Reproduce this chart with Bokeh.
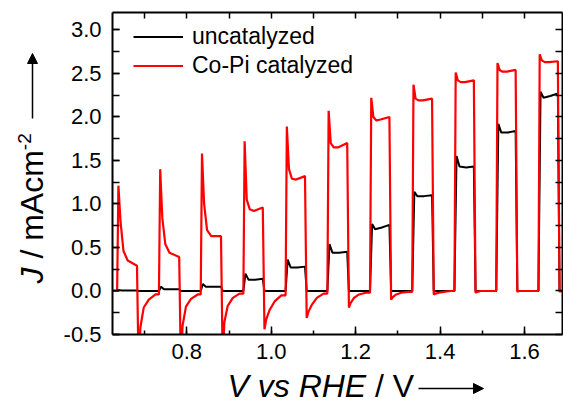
import math
from bokeh.plotting import figure
from bokeh.models import (ColumnDataSource, Legend, LegendItem, Label, Arrow, NormalHead,
                          LinearAxis, SingleIntervalTicker, NumeralTickFormatter,
                          CustomJSTickFormatter, BoxAnnotation, Range1d)
from bokeh.embed import file_html
from bokeh.resources import INLINE

# ---------------- data ----------------
# chopped-light sweep: light on / off potentials (V vs RHE)
pulse_on = [0.635, 0.734, 0.833, 0.934, 1.034, 1.133, 1.234, 1.334, 1.434, 1.533, 1.633]
pulse_off = [0.682, 0.782, 0.881, 0.980, 1.080, 1.180, 1.280, 1.381, 1.480, 1.579, 1.679]

# Co-Pi catalyzed: light-on transient (offsets after light on, V)
red_on_offsets = [0.003, 0.008, 0.015, 0.025]
red_peak = [1.21, 1.40, 1.58, 1.72, 1.89, 2.07, 2.22, 2.37, 2.51, 2.62, 2.72]
red_d8 = [0.80, 0.84, 1.00, 1.05, 1.40, 1.70, 2.00, 2.21, 2.42, 2.54, 2.65]
red_d15 = [0.46, 0.54, 0.70, 0.94, 1.29, 1.65, 1.96, 2.19, 2.40, 2.52, 2.63]
red_d25 = [0.35, 0.44, 0.63, 0.92, 1.28, 1.65, 1.97, 2.19, 2.40, 2.52, 2.63]
red_end = [0.29, 0.39, 0.63, 0.96, 1.32, 1.70, 2.00, 2.21, 2.42, 2.54, 2.64]
# Co-Pi catalyzed: light-off transient (offsets after light off, V)
red_off_offsets = [0.004, 0.008, 0.016, 0.028, 0.044]
red_dip = [-0.95, -0.90, -0.80, -0.44, -0.31, -0.19, -0.10, -0.04, -0.02, -0.01, -0.01]
red_r8 = [-0.42, -0.40, -0.36, -0.33, -0.24, -0.14, -0.07, -0.03, -0.01, 0.00, 0.00]
red_r16 = [-0.19, -0.18, -0.17, -0.22, -0.16, -0.08, -0.04, -0.02, 0.00, 0.00, 0.00]
red_r28 = [-0.10, -0.09, -0.08, -0.12, -0.08, -0.04, -0.02, -0.01, 0.00, 0.00, 0.00]
red_r44 = [-0.04, -0.04, -0.03, -0.05, -0.03, -0.02, -0.01, 0.00, 0.00, 0.00, 0.00]

# uncatalyzed: light-on transient
blk_on_offsets = [0.005, 0.012, 0.028]
blk_peak = [0.01, 0.05, 0.08, 0.20, 0.36, 0.54, 0.77, 1.14, 1.55, 1.92, 2.29]
blk_min = [0.005, 0.02, 0.05, 0.13, 0.27, 0.44, 0.71, 1.09, 1.43, 1.82, 2.22]
blk_mid = [0.005, 0.02, 0.05, 0.13, 0.27, 0.44, 0.73, 1.09, 1.42, 1.82, 2.24]
blk_end = [0.005, 0.02, 0.05, 0.14, 0.28, 0.45, 0.76, 1.10, 1.43, 1.84, 2.27]
blk_off_offset = 0.004

v_start, v_stop = 0.625, 1.69

# ---------------- build polylines ----------------
rx, ry = [v_start], [0.0]
for i in range(len(pulse_on)):
    on, off = pulse_on[i], pulse_off[i]
    base = 0.0 if i == 0 else red_r44[i - 1]
    rx.append(on); ry.append(base)
    for off_t, val in zip(red_on_offsets, [red_peak[i], red_d8[i], red_d15[i], red_d25[i]]):
        rx.append(on + off_t); ry.append(val)
    rx.append(off); ry.append(red_end[i])
    for off_t, val in zip(red_off_offsets, [red_dip[i], red_r8[i], red_r16[i], red_r28[i], red_r44[i]]):
        if off + off_t <= v_stop:
            rx.append(off + off_t); ry.append(val)
rx.append(v_stop); ry.append(0.0)

bx, by = [v_start], [0.0]
for i in range(len(pulse_on)):
    on, off = pulse_on[i], pulse_off[i]
    bx.append(on); by.append(0.0)
    for off_t, val in zip(blk_on_offsets, [blk_peak[i], blk_min[i], blk_mid[i]]):
        bx.append(on + off_t); by.append(val)
    bx.append(off); by.append(blk_end[i])
    bx.append(off + blk_off_offset); by.append(0.0)
bx.append(v_stop); by.append(0.0)

red_src = ColumnDataSource(dict(x=rx, y=ry))
blk_src = ColumnDataSource(dict(x=bx, y=by))

# ---------------- figure ----------------
W, H = 563, 404
FL, FT, FW, FH = 112, 12, 450, 322          # inner plot box in pixels
X0, X1 = 0.624, 1.690
Y0, Y1 = -0.5, 3.2
KX = (X1 - X0) / FW
KY = (Y1 - Y0) / FH
CX0, CX1 = X0 - FL * KX, X0 + (W - FL) * KX
CY1, CY0 = Y1 + FT * KY, Y1 - (H - FT) * KY
FONT = "Liberation Sans"

def sx(px):
    return CX0 + px * KX

def sy(py):
    return CY1 - py * KY

p = figure(width=W, height=H, x_range=Range1d(CX0, CX1), y_range=Range1d(CY0, CY1),
           output_backend="svg", toolbar_location=None, min_border=0,
           x_axis_type=None, y_axis_type=None)
p.grid.visible = False
p.outline_line_color = None
p.background_fill_color = "white"
p.border_fill_color = "white"

blank = CustomJSTickFormatter(code="return '';")

def style_axis(ax, tick_in, minor_in, labels=True):
    ax.axis_line_color = "black"
    ax.axis_line_width = 2
    ax.major_tick_line_color = "black"
    ax.major_tick_line_width = 1.5
    ax.minor_tick_line_color = "black"
    ax.minor_tick_line_width = 1.5
    ax.major_tick_in = tick_in
    ax.major_tick_out = 0
    ax.minor_tick_in = minor_in
    ax.minor_tick_out = 0
    if labels:
        ax.major_label_text_font = FONT
        ax.major_label_text_font_size = "22px"
        ax.major_label_text_color = "black"
    else:
        ax.major_label_standoff = 0

r_blk = p.line("x", "y", source=blk_src, line_color="black", line_width=2)
r_red = p.line("x", "y", source=red_src, line_color="#ff0000", line_width=2.2)

# white mask below the plot box (the curves run off the bottom of the box)
mask = BoxAnnotation(top=Y0, fill_color="white", fill_alpha=1.0, line_color=None, level="glyph")
p.renderers.append(mask)

xb = LinearAxis(ticker=SingleIntervalTicker(interval=0.2, num_minor_ticks=2),
                formatter=NumeralTickFormatter(format="0.0"), fixed_location=Y0, bounds=(X0, X1))
style_axis(xb, 8, 4)
xb.major_label_standoff = 9
p.add_layout(xb, "below")

yl = LinearAxis(ticker=SingleIntervalTicker(interval=0.5, num_minor_ticks=2),
                formatter=NumeralTickFormatter(format="0.0"), fixed_location=X0, bounds=(Y0, Y1))
style_axis(yl, 7, 7)
yl.major_label_standoff = 11
p.add_layout(yl, "left")

xt = LinearAxis(ticker=SingleIntervalTicker(interval=0.1, num_minor_ticks=0),
                formatter=blank, fixed_location=Y1, bounds=(X0, X1))
style_axis(xt, 6, 0, labels=False)
p.add_layout(xt, "above")

yr = LinearAxis(ticker=SingleIntervalTicker(interval=0.25, num_minor_ticks=0),
                formatter=blank, fixed_location=X1, bounds=(Y0, Y1))
style_axis(yr, 7, 0, labels=False)
p.add_layout(yr, "right")

legend = Legend(items=[LegendItem(label="uncatalyzed", renderers=[r_blk]),
                       LegendItem(label="Co-Pi catalyzed", renderers=[r_red])],
                location=(FL + 21, H - 80), orientation="vertical")
legend.background_fill_alpha = 0
legend.border_line_alpha = 0
legend.label_text_font = FONT
legend.label_text_font_size = "23px"
legend.label_text_color = "black"
legend.glyph_width = 50
legend.glyph_height = 29
legend.label_height = 29
legend.spacing = 0
legend.padding = 0
legend.margin = 0
legend.label_standoff = 9
p.add_layout(legend)

T = 32          # axis title font size (px)
MID = 0.35      # baseline -> vertical centre of text box, in em

# y axis title: "J / mAcm-2" rotated, with arrow (positions: baseline x=43, starts at y=283)
p.add_layout(Label(x=sx(43 - MID * T), y=sy(283), text="J", angle=math.pi / 2,
                   text_font=FONT, text_font_style="italic", text_font_size=f"{T}px",
                   text_align="left", text_baseline="middle", text_color="black"))
p.add_layout(Label(x=sx(43 - MID * T), y=sy(283 - 0.778 * T), text="/ mAcm", angle=math.pi / 2,
                   text_font=FONT, text_font_size=f"{T}px",
                   text_align="left", text_baseline="middle", text_color="black"))
p.add_layout(Label(x=sx(31 - MID * 19), y=sy(283 - 4.167 * T), text="-2", angle=math.pi / 2,
                   text_font=FONT, text_font_size="19px",
                   text_align="left", text_baseline="middle", text_color="black"))
p.add_layout(Arrow(end=NormalHead(size=10, fill_color="black", line_color="black"),
                   x_start=sx(32), y_start=sy(118), x_end=sx(32), y_end=sy(53),
                   line_color="black", line_width=1.5))

# x axis title: "V vs RHE / V" with arrow (baseline y=397, starts at x=227)
XB = 397
p.add_layout(Label(x=sx(227), y=sy(XB - MID * T), text="V vs RHE",
                   text_font=FONT, text_font_style="italic", text_font_size=f"{T}px",
                   text_align="left", text_baseline="middle", text_color="black"))
p.add_layout(Label(x=sx(227 + 4.612 * T), y=sy(XB - MID * T), text="/ V",
                   text_font=FONT, text_font_size=f"{T}px",
                   text_align="left", text_baseline="middle", text_color="black"))
p.add_layout(Arrow(end=NormalHead(size=10, fill_color="black", line_color="black"),
                   x_start=sx(418), y_start=sy(XB - 9), x_end=sx(483), y_end=sy(XB - 9),
                   line_color="black", line_width=1.5))

open("out.html", "w").write(file_html(p, INLINE))
